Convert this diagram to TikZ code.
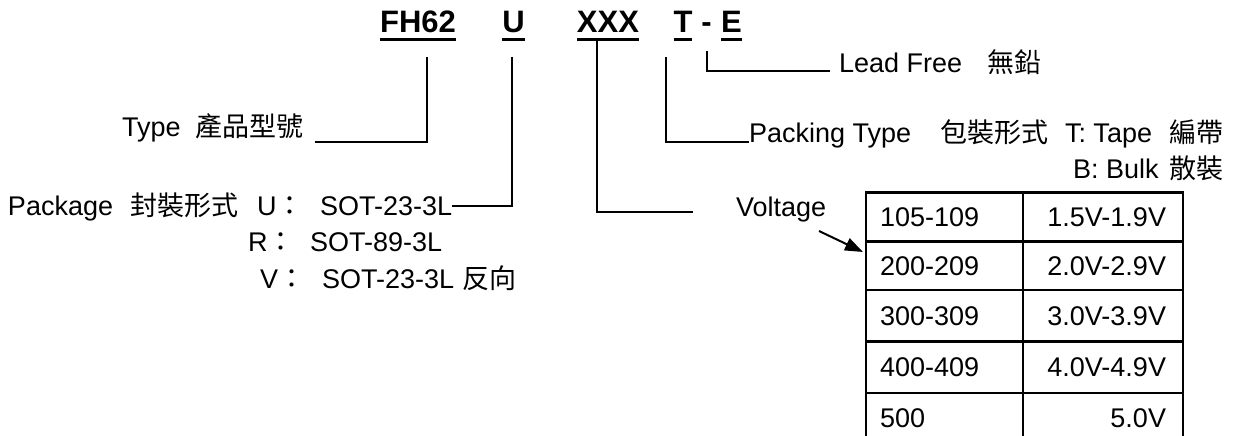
\documentclass[tikz,border=0pt]{standalone}
\usepackage{fontspec}
\setmainfont{Liberation Sans}
\newfontfamily\cjk{Noto Sans CJK TC}
\usetikzlibrary{arrows.meta}
\begin{document}
\begin{tikzpicture}[x=1pt,y=-1pt,
  txt/.style={font=\fontsize{27}{31}\selectfont, inner sep=0pt, outer sep=0pt},
  ttl/.style={font=\fontsize{31}{36}\selectfont\bfseries, inner sep=0pt, outer sep=0pt, anchor=base},
  conn/.style={line width=2pt},
  gridline/.style={line width=2.6pt},
  uline/.style={line width=2.6pt}]
\useasboundingbox (0,0) rectangle (1239,436);
\fill[white] (0,0) rectangle (1239,436);

% title
\node[ttl] (fh) at (418,33) {FH62};
\node[ttl] (u) at (513.5,33) {U};
\node[ttl] (xxx) at (608,33) {XXX};
\node[ttl] (t) at (683,33) {T};
\node[ttl] (dash) at (706.5,33) {-};
\node[ttl] (e) at (731.5,33) {E};
\foreach \n in {fh,u,xxx,t,e}
  \draw[uline] ([yshift=-6.5pt]\n.base west) -- ([yshift=-6.5pt]\n.base east);

% Type
\node[txt,anchor=base west] (type) at (122,136) {Type};
\node[txt,anchor=base west] (typecjk) at (195,136) {\cjk 產品型號};

% Package
\node[txt,anchor=base west] (pkg) at (8,215) {Package};
\node[txt,anchor=base west] (pkgcjk) at (130,215) {\cjk 封裝形式};
\node[txt,anchor=base west] (pu) at (257,215) {U{\cjk ：}};
\node[txt,anchor=base west] (sotu) at (320,215) {SOT-23-3L};
\node[txt,anchor=base west] (pr) at (248,251) {R{\cjk ：}};
\node[txt,anchor=base west] (sotr) at (310,251) {SOT-89-3L};
\node[txt,anchor=base west] (pv) at (260,288) {V{\cjk ：}};
\node[txt,anchor=base west] (sotv) at (322,288) {SOT-23-3L};
\node[txt,anchor=base west] (sotvcjk) at (462,288) {\cjk 反向};

% Packing
\node[txt,anchor=base west] (packing) at (749,142) {Packing Type};
\node[txt,anchor=base west] (packcjk) at (940,142) {\cjk 包裝形式};
\node[txt,anchor=base west] (tape) at (1065,142) {T: Tape};
\node[txt,anchor=base east] (tapecjk) at (1223,142) {\cjk 編帶};
\node[txt,anchor=base west] (bulk) at (1073,178) {B: Bulk};
\node[txt,anchor=base east] (bulkcjk) at (1223,178) {\cjk 散裝};

% Lead free
\node[txt,anchor=base west] (lead) at (839,72) {Lead Free};
\node[txt,anchor=base east] (leadcjk) at (1041,72) {\cjk 無鉛};

% Voltage
\node[txt,anchor=base west] (volt) at (736,216) {Voltage};

% connectors
\coordinate (fhdrop) at (427,57);
\coordinate (typeend) at (315,142);
\draw[conn] (fhdrop) |- (typeend);
\coordinate (udrop) at (512,57);
\draw[conn] (udrop) |- (sotu.east);
\coordinate (xdrop) at (597,41);
\coordinate (xend) at (693,212);
\draw[conn] (xdrop) |- (xend);
\coordinate (tdrop) at (666,57);
\draw[conn] (tdrop) |- (packing.base west);
\coordinate (edrop) at (707,51);
\coordinate (eend) at (830,71);
\draw[conn] (edrop) |- (eend);
\coordinate (arrstart) at (819,231);
\coordinate (arrtip) at (863,252);
\draw[conn,-{Triangle[length=18pt,width=13pt]}] (arrstart) -- (arrtip);

% table
\draw[gridline] (866,436) -- (866,192.7) -- (1183,192.7) -- (1183,436);
\draw[gridline] (1023,192.7) -- (1023,436);
\foreach \yy in {241.7,290,341.7,393}
  \draw[gridline] (866,\yy) -- (1183,\yy);

\node[txt,anchor=west] (c1a) at (880,217.2) {105-109};
\node[txt,anchor=east] (c1b) at (1166,217.2) {1.5V-1.9V};
\node[txt,anchor=west] (c2a) at (880,265.9) {200-209};
\node[txt,anchor=east] (c2b) at (1166,265.9) {2.0V-2.9V};
\node[txt,anchor=west] (c3a) at (880,315.9) {300-309};
\node[txt,anchor=east] (c3b) at (1166,315.9) {3.0V-3.9V};
\node[txt,anchor=west] (c4a) at (880,367.4) {400-409};
\node[txt,anchor=east] (c4b) at (1166,367.4) {4.0V-4.9V};
\node[txt,anchor=west] (c5a) at (880,418.5) {500};
\node[txt,anchor=east] (c5b) at (1166,418.5) {5.0V};
\end{tikzpicture}
\end{document}
